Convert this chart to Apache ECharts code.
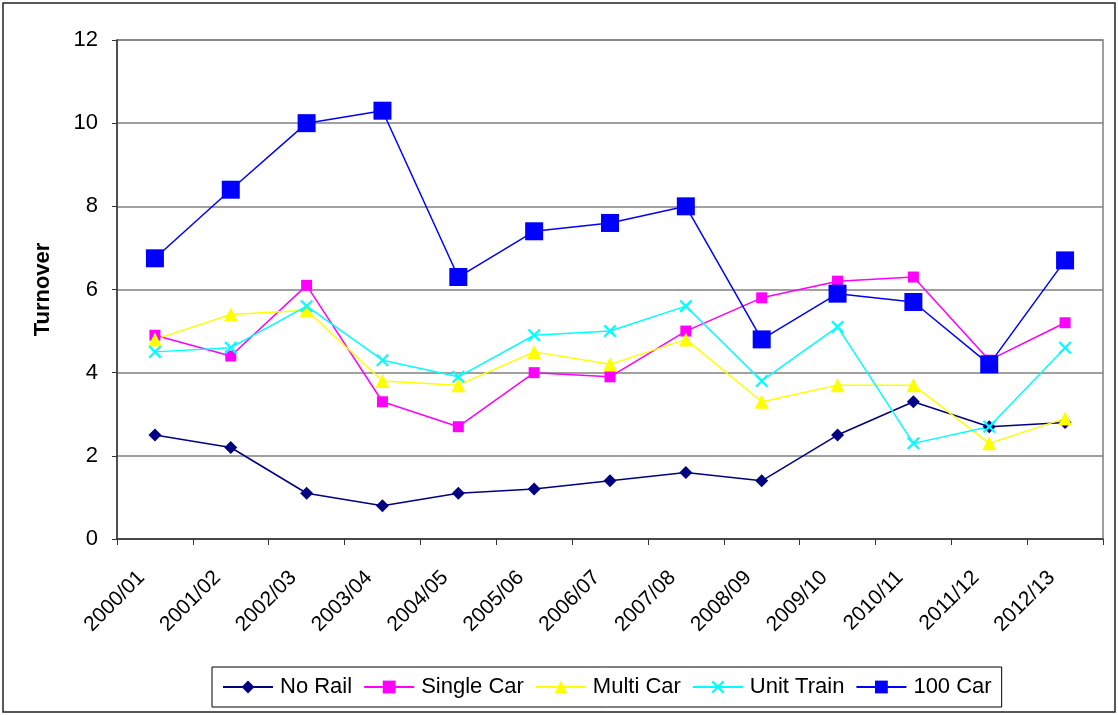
<!DOCTYPE html>
<html>
<head>
<meta charset="utf-8">
<script src="https://cdn.jsdelivr.net/npm/echarts@6/dist/echarts.min.js"></script>
<style>
html,body{margin:0;padding:0;background:#fff;}
#chart{width:1118px;height:715px;}
</style>
</head>
<body>
<div id="chart"></div>
<script>
const categories = ['2000/01','2001/02','2002/03','2003/04','2004/05','2005/06','2006/07','2007/08','2008/09','2009/10','2010/11','2011/12','2012/13'];
const noRail    = [2.5, 2.2, 1.1, 0.8, 1.1, 1.2, 1.4, 1.6, 1.4, 2.5, 3.3, 2.7, 2.8];
const singleCar = [4.9, 4.4, 6.1, 3.3, 2.7, 4.0, 3.9, 5.0, 5.8, 6.2, 6.3, 4.3, 5.2];
const multiCar  = [4.8, 5.4, 5.5, 3.8, 3.7, 4.5, 4.2, 4.8, 3.3, 3.7, 3.7, 2.3, 2.9];
const unitTrain = [4.5, 4.6, 5.6, 4.3, 3.9, 4.9, 5.0, 5.6, 3.8, 5.1, 2.3, 2.7, 4.6];
const car100    = [6.75, 8.4, 10.0, 10.3, 6.3, 7.4, 7.6, 8.0, 4.8, 5.9, 5.7, 4.2, 6.7];
const yTicks = {min: 0, max: 12, interval: 2};

const FONT = '"Liberation Sans", Arial, sans-serif';
const xPath = 'path://M0,1.2L1.2,0L5,3.8L8.8,0L10,1.2L6.2,5L10,8.8L8.8,10L5,6.2L1.2,10L0,8.8L3.8,5Z';

function mk(name, data, color, symbol, size) {
  return {
    name: name, type: 'line', data: data,
    symbol: symbol, symbolSize: size, showSymbol: true,
    lineStyle: {color: color, width: 1.5},
    itemStyle: {color: color, opacity: 1},
    emphasis: {disabled: true},
    animation: false
  };
}

const chart = echarts.init(document.getElementById('chart'), null, {renderer: 'canvas'});
chart.setOption({
  animation: false,
  backgroundColor: '#fff',
  textStyle: {fontFamily: FONT},
  graphic: [{
    type: 'rect', shape: {x: 3, y: 3, width: 1112, height: 709},
    style: {fill: 'none', stroke: '#222', lineWidth: 1.5}, silent: true
  }],
  grid: {left: 117, right: 15, top: 40, bottom: 176, show: true, borderColor: '#808080', borderWidth: 1.5},
  legend: {
    bottom: 8, left: 212,
    itemWidth: 50, itemHeight: 16, itemGap: 11,
    borderColor: '#000', borderWidth: 1, padding: [9, 10, 9, 10],
    textStyle: {fontFamily: FONT, fontSize: 22, color: '#000', padding: [0, 0, 0, 2]},
    data: ['No Rail', 'Single Car', 'Multi Car', 'Unit Train', '100 Car']
  },
  xAxis: {
    type: 'category', data: categories, boundaryGap: true,
    axisLine: {lineStyle: {color: '#333', width: 1.5}},
    axisTick: {show: true, length: 6, lineStyle: {color: '#333'}},
    axisLabel: {rotate: 45, fontFamily: FONT, fontSize: 21, color: '#000', margin: 22, interval: 0, padding: [0, 19, 0, 0]},
    splitLine: {show: false}
  },
  yAxis: {
    type: 'value', min: yTicks.min, max: yTicks.max, interval: yTicks.interval,
    name: 'Turnover', nameLocation: 'middle', nameGap: 63,
    nameTextStyle: {fontFamily: FONT, fontSize: 22, fontWeight: 'bold', color: '#000'},
    axisLine: {show: true, lineStyle: {color: '#333', width: 1.5}},
    axisTick: {show: true, length: 5, lineStyle: {color: '#333'}},
    axisLabel: {fontFamily: FONT, fontSize: 22, color: '#000', margin: 19},
    splitLine: {show: true, lineStyle: {color: '#808080', width: 1.5}}
  },
  series: [
    mk('No Rail', noRail, '#000080', 'diamond', 13),
    mk('Single Car', singleCar, '#FF00FF', 'rect', 11),
    mk('Multi Car', multiCar, '#FFFF00', 'triangle', 14),
    mk('Unit Train', unitTrain, '#00FFFF', xPath, 13),
    mk('100 Car', car100, '#0000FF', 'rect', 18)
  ]
});
</script>
</body>
</html>
